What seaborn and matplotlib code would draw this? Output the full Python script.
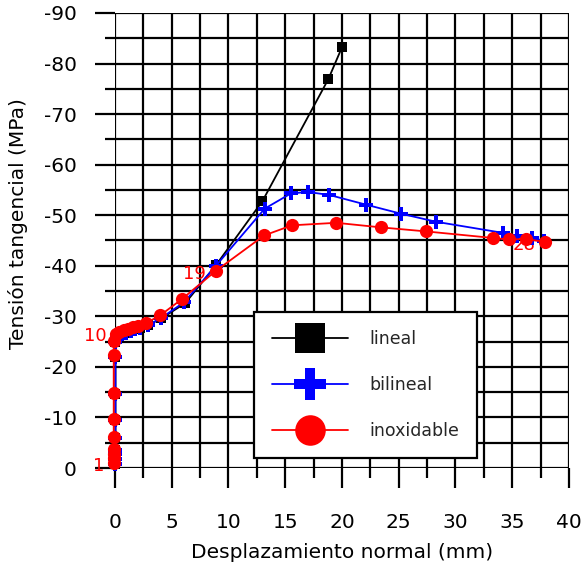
import matplotlib
matplotlib.use("Agg")
import matplotlib.pyplot as plt
from matplotlib.lines import Line2D
import numpy as np
import pandas as pd
import seaborn as sns

# Ensayo "lineal"
lineal_x = [0.05] * 9 + [0.2, 0.6, 1.0, 1.4, 1.8, 2.2, 2.9, 4.1, 6.2, 8.9, 13.0, 18.8, 20.0]
lineal_y = [-0.8, -1.8, -2.7, -3.6, -6.0, -9.5, -14.6, -22.0, -25.0,
            -26.2, -26.5, -26.8, -27.1, -27.4, -27.7, -28.2, -29.6, -32.6, -40.1,
            -52.8, -76.9, -83.2]

# Ensayo "bilineal"
bilineal_x = [0.05] * 9 + [0.2, 0.6, 1.0, 1.4, 1.8, 2.2, 2.9, 4.1, 6.1, 8.9,
                           13.2, 15.5, 17.0, 18.9, 22.1, 25.2, 28.3, 34.2, 35.4, 36.7, 37.8]
bilineal_y = [-0.8, -1.8, -2.7, -3.6, -6.0, -9.5, -14.6, -22.0, -25.0,
              -26.2, -26.5, -26.8, -27.1, -27.4, -27.7, -28.2, -29.7, -32.8, -40.0,
              -51.3, -54.3, -54.6, -54.0, -52.1, -50.3, -48.7, -46.5, -45.9, -45.5, -44.9]

# Ensayo "inoxidable" (escalones numerados)
inox_x = [-0.1] * 9 + [0.1, 0.4, 0.8, 1.2, 1.6, 2.0, 2.7, 4.0, 5.9, 8.9,
                       13.15, 15.6, 19.5, 23.4, 27.4, 33.3, 34.7, 36.2, 37.9]
inox_y = [-0.9, -1.9, -2.8, -3.8, -6.2, -9.7, -14.8, -22.3, -25.2,
          -26.6, -26.9, -27.2, -27.5, -27.8, -28.1, -28.6, -30.2, -33.4, -39.0,
          -46.0, -48.0, -48.5, -47.6, -46.8, -45.5, -45.2, -45.3, -44.7]
inox_steps = [1, 10, 19, 28]

series_names = ["lineal", "bilineal", "inoxidable"]
series_colors = ["black", "blue", "red"]
series_markers = ["s", "P", "o"]
series_msize = [7.5, 9.5, 9.5]

x_ticks = [0, 5, 10, 15, 20, 25, 30, 35, 40]
y_ticks = [0, -10, -20, -30, -40, -50, -60, -70, -80, -90]

sns.set_theme(style="white")
plt.rcParams["font.family"] = ["DejaVu Sans"]
plt.rcParams["axes.unicode_minus"] = False

fig = plt.figure(figsize=(5.83, 5.67), dpi=100)
ax = fig.add_axes([0.197, 0.1746, 0.779, 0.8025])

frames = [
    pd.DataFrame({"x": lineal_x, "y": lineal_y}),
    pd.DataFrame({"x": bilineal_x, "y": bilineal_y}),
    pd.DataFrame({"x": inox_x, "y": inox_y}),
]

for df, name, col, mk, ms in zip(frames, series_names, series_colors, series_markers, series_msize):
    sns.lineplot(data=df, x="x", y="y", sort=False, estimator=None, ax=ax,
                 color=col, marker=mk, markersize=ms, markeredgewidth=0,
                 linewidth=1.3, clip_on=False, zorder=3, legend=False)

# step numbers of the stainless test
for n in inox_steps:
    i = n - 1
    ax.annotate(str(n), (inox_x[i], inox_y[i]), xytext=(-7, -2),
                textcoords="offset points", ha="right", va="center",
                color="red", fontsize=13, zorder=2, annotation_clip=False)

ax.set_xlim(0, 40)
ax.set_ylim(0, -90)

ax.set_xticks(x_ticks)
ax.set_xticklabels([str(v) for v in x_ticks])
ax.set_xticks(np.arange(0, 40.1, 2.5), minor=True)
ax.set_yticks(y_ticks)
ax.set_yticklabels([str(v) for v in y_ticks])
ax.set_yticks(np.arange(0, -90.1, -5), minor=True)

ax.set_axisbelow(True)
ax.grid(True, which="both", color="black", linewidth=1.6)
for s in ax.spines.values():
    s.set_visible(False)

ax.tick_params(axis="both", which="both", bottom=True, left=True, top=False, right=False)
ax.tick_params(axis="both", which="major", direction="out", length=14.5,
               width=1.6, color="black", labelsize=14.5, labelcolor="black")
ax.tick_params(axis="both", which="minor", direction="out", length=7,
               width=1.6, color="black")
ax.tick_params(axis="x", which="major", pad=18)
ax.tick_params(axis="y", which="major", pad=13)

ax.set_xlabel("Desplazamiento normal (mm)", fontsize=14.5, color="black", va="center")
ax.set_ylabel("Tensión tangencial (MPa)", fontsize=14.5, color="black", va="center")
ax.xaxis.set_label_coords(0.5, -0.185)
ax.yaxis.set_label_coords(-0.214, 0.538)

handles = [Line2D([], [], color=c, marker=m, markersize=s, linewidth=1.3, markeredgewidth=0)
           for c, m, s in zip(series_colors, series_markers, [21, 23, 22])]
leg = ax.legend(handles, series_names, loc="lower left", bbox_to_anchor=(0.306, 0.022),
                fontsize=12.5, frameon=True, fancybox=False, edgecolor="black",
                handlelength=4.4, handletextpad=1.2, labelspacing=1.6,
                borderpad=1.05, borderaxespad=0)
leg.get_frame().set_linewidth(1.6)
leg.get_frame().set_facecolor("white")
leg.get_frame().set_alpha(1)
leg.set_zorder(5)

fig.savefig("out.png", dpi=100)
